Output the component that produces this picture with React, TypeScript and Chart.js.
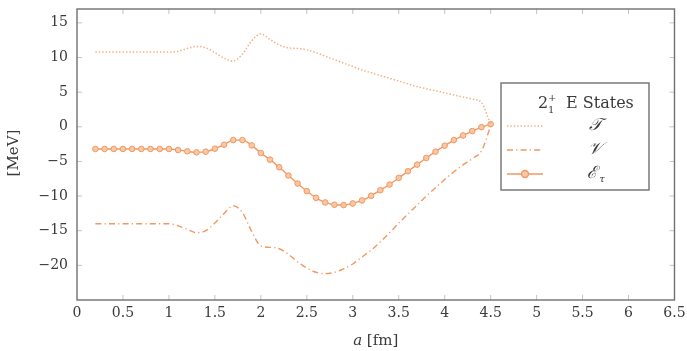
import React, { useEffect, useRef } from "react";
import { Chart, registerables } from "chart.js";

Chart.register(...registerables);

// separation a [fm]
const aValues = [
  0.2, 0.3, 0.4, 0.5, 0.6, 0.7, 0.8, 0.9, 1.0, 1.1, 1.2, 1.3, 1.4, 1.5, 1.6, 1.7, 1.8, 1.9, 2.0, 2.1,
  2.2, 2.3, 2.4, 2.5, 2.6, 2.7, 2.8, 2.9, 3.0, 3.1, 3.2, 3.3, 3.4, 3.5, 3.6, 3.7, 3.8, 3.9, 4.0, 4.1,
  4.2, 4.3, 4.4, 4.5,
];

// kinetic term T [MeV]
const kinetic = [
  10.8, 10.8, 10.8, 10.8, 10.8, 10.8, 10.8, 10.8, 10.8, 10.9, 11.3, 11.6, 11.4, 10.7, 9.9, 9.5, 10.5, 12.4, 13.4, 12.6,
  11.8, 11.4, 11.3, 11.1, 10.7, 10.2, 9.7, 9.2, 8.7, 8.2, 7.8, 7.4, 7.0, 6.6, 6.2, 5.8, 5.5, 5.2, 4.9, 4.6,
  4.3, 4.0, 3.5, 0.3,
];

// potential term V [MeV]
const potential = [
  -14.0, -14.0, -14.0, -14.0, -14.0, -14.0, -14.0, -14.0, -14.0, -14.3, -14.8, -15.3, -15.0, -13.9, -12.5, -11.4, -12.4, -15.1, -17.2, -17.4,
  -17.6, -18.4, -19.5, -20.4, -21.0, -21.2, -21.0, -20.5, -19.8, -18.8, -17.8, -16.6, -15.3, -13.9, -12.6, -11.3, -10.0, -8.8, -7.6, -6.5,
  -5.5, -4.6, -3.5, 0.1,
];

// total energy E_tau [MeV]
const energy = [
  -3.2, -3.2, -3.2, -3.2, -3.2, -3.2, -3.2, -3.2, -3.2, -3.35, -3.54, -3.69, -3.59, -3.16, -2.59, -1.92, -1.92, -2.68, -3.78, -4.74,
  -5.84, -7.04, -8.19, -9.29, -10.25, -10.92, -11.25, -11.3, -11.06, -10.63, -9.96, -9.15, -8.33, -7.37, -6.42, -5.46, -4.5, -3.59, -2.73, -1.92,
  -1.25, -0.62, -0.05, 0.38,
];

const xTicks = [0, 0.5, 1, 1.5, 2, 2.5, 3, 3.5, 4, 4.5, 5, 5.5, 6, 6.5];
const yTicks = [-25, -20, -15, -10, -5, 0, 5, 10, 15];
const yTickLabels = ["", "−20", "−15", "−10", "−5", "0", "5", "10", "15"];
const X_MIN = 0;
const X_MAX = 6.5;
const Y_MIN = -25;
const Y_MAX = 17;

const ORANGE = "rgb(242,152,96)";
const ORANGE_LIGHT = "rgba(242,152,96,0.8)";
const MARKER_FILL = "rgb(248,200,165)";
const SERIF = "'DejaVu Serif', 'Liberation Serif', serif";
const TEXT = "#3a3a3a";

const dotDash = [1.4, 2.0];
const dashDot = [6, 3.2, 1.2, 3.2];

const framePlugin = {
  id: "frame",
  afterDraw(chart: any) {
    const { ctx } = chart;
    const xs = chart.scales.x;
    const ys = chart.scales.y;
    const left = xs.getPixelForValue(X_MIN);
    const right = xs.getPixelForValue(X_MAX);
    const top = ys.getPixelForValue(Y_MAX);
    const bottom = ys.getPixelForValue(Y_MIN);
    ctx.save();

    // tick marks pointing inward on all four sides
    ctx.strokeStyle = "#c4c4c4";
    ctx.lineWidth = 1;
    const tl = 5;
    xTicks.forEach((v) => {
      const px = xs.getPixelForValue(v);
      if (Math.abs(px - left) < 1 || Math.abs(px - right) < 1) return;
      ctx.beginPath();
      ctx.moveTo(px, bottom);
      ctx.lineTo(px, bottom - tl);
      ctx.moveTo(px, top);
      ctx.lineTo(px, top + tl);
      ctx.stroke();
    });
    yTicks.forEach((v) => {
      const py = ys.getPixelForValue(v);
      if (Math.abs(py - bottom) < 1 || Math.abs(py - top) < 1) return;
      ctx.beginPath();
      ctx.moveTo(left, py);
      ctx.lineTo(left + tl, py);
      ctx.moveTo(right, py);
      ctx.lineTo(right - tl, py);
      ctx.stroke();
    });

    // plot frame
    ctx.strokeStyle = "#707070";
    ctx.lineWidth = 1.4;
    ctx.strokeRect(left, top, right - left, bottom - top);

    // axis titles
    ctx.fillStyle = TEXT;
    ctx.textBaseline = "middle";
    ctx.font = `italic 15px ${SERIF}`;
    const aW = ctx.measureText("a").width;
    ctx.font = `15px ${SERIF}`;
    const restW = ctx.measureText(" [fm]").width;
    const cx = (left + right) / 2;
    const ty = 341;
    const x0 = cx - (aW + restW) / 2;
    ctx.textAlign = "left";
    ctx.font = `italic 15px ${SERIF}`;
    ctx.fillText("a", x0, ty);
    ctx.font = `15px ${SERIF}`;
    ctx.fillText(" [fm]", x0 + aW, ty);

    ctx.save();
    ctx.translate(14, 153);
    ctx.rotate(-Math.PI / 2);
    ctx.textAlign = "center";
    ctx.font = `15px ${SERIF}`;
    ctx.fillText("[MeV]", 0, 0);
    ctx.restore();

    // legend
    const lx = 501, ly = 83, lw = 148, lh = 107;
    ctx.fillStyle = "#fff";
    ctx.fillRect(lx, ly, lw, lh);
    ctx.strokeStyle = "#707070";
    ctx.lineWidth = 1.4;
    ctx.strokeRect(lx, ly, lw, lh);

    ctx.fillStyle = TEXT;
    ctx.textAlign = "left";
    ctx.textBaseline = "alphabetic";
    ctx.font = `16px ${SERIF}`;
    ctx.fillText("2", 538, 108);
    ctx.font = `10px ${SERIF}`;
    ctx.fillText("+", 548, 101);
    ctx.fillText("1", 548, 113);
    ctx.font = `16px ${SERIF}`;
    ctx.fillText("E States", 566, 108);

    const sx0 = 507, sx1 = 543;
    const rows = [126, 150, 174];
    // T sample
    ctx.strokeStyle = ORANGE_LIGHT;
    ctx.lineWidth = 1.3;
    ctx.setLineDash(dotDash);
    ctx.beginPath();
    ctx.moveTo(sx0, rows[0]);
    ctx.lineTo(sx1, rows[0]);
    ctx.stroke();
    // V sample
    ctx.strokeStyle = ORANGE;
    ctx.setLineDash(dashDot);
    ctx.beginPath();
    ctx.moveTo(sx0, rows[1]);
    ctx.lineTo(sx1, rows[1]);
    ctx.stroke();
    // E sample
    ctx.setLineDash([]);
    ctx.lineWidth = 1.4;
    ctx.beginPath();
    ctx.moveTo(sx0, rows[2]);
    ctx.lineTo(sx1, rows[2]);
    ctx.stroke();
    ctx.beginPath();
    ctx.arc((sx0 + sx1) / 2, rows[2], 3.5, 0, Math.PI * 2);
    ctx.fillStyle = MARKER_FILL;
    ctx.fill();
    ctx.stroke();

    ctx.fillStyle = TEXT;
    ctx.textAlign = "center";
    ctx.textBaseline = "middle";
    ctx.font = `italic 17px ${SERIF}`;
    ctx.fillText("𝒯", 595, rows[0]);
    ctx.fillText("𝒱", 595, rows[1]);
    ctx.fillText("ℰ", 592, rows[2]);
    ctx.font = `italic 10px ${SERIF}`;
    ctx.fillText("τ", 602, rows[2] + 5);

    ctx.restore();
  },
};

export default function App() {
  const ref = useRef<HTMLCanvasElement | null>(null);

  useEffect(() => {
    if (!ref.current) return;
    const chart = new Chart(ref.current, {
      type: "line",
      data: {
        datasets: [
          {
            label: "T",
            data: aValues.map((a, i) => ({ x: a, y: kinetic[i] })),
            borderColor: ORANGE_LIGHT,
            borderWidth: 1.5,
            borderDash: dotDash,
            pointRadius: 0,
            cubicInterpolationMode: "monotone",
          },
          {
            label: "V",
            data: aValues.map((a, i) => ({ x: a, y: potential[i] })),
            borderColor: ORANGE,
            borderWidth: 1.4,
            borderDash: dashDot,
            pointRadius: 0,
            cubicInterpolationMode: "monotone",
          },
          {
            label: "E",
            data: aValues.map((a, i) => ({ x: a, y: energy[i] })),
            borderColor: ORANGE,
            borderWidth: 1.4,
            pointRadius: 2.8,
            pointBorderWidth: 1,
            pointBackgroundColor: MARKER_FILL,
            pointBorderColor: ORANGE,
            cubicInterpolationMode: "monotone",
          },
        ],
      },
      options: {
        animation: false,
        responsive: false,
        devicePixelRatio: 1,
        layout: { padding: { top: 9, right: 12.5, left: 0, bottom: 0 } },
        plugins: { legend: { display: false }, tooltip: { enabled: false } },
        scales: {
          x: {
            type: "linear",
            min: X_MIN,
            max: X_MAX,
            grid: { display: false, drawTicks: false },
            border: { display: false },
            afterBuildTicks: (s: any) => {
              s.ticks = xTicks.map((v) => ({ value: v }));
            },
            afterFit: (s: any) => {
              s.height = 51;
              s.paddingLeft = 0;
              s.paddingRight = 0;
            },
            ticks: {
              padding: 5,
              color: TEXT,
              font: { family: SERIF, size: 14 },
              callback: (v: any) => String(v),
            },
          },
          y: {
            type: "linear",
            min: Y_MIN,
            max: Y_MAX,
            grid: { display: false, drawTicks: false },
            border: { display: false },
            afterBuildTicks: (s: any) => {
              s.ticks = yTicks.map((v) => ({ value: v }));
            },
            afterFit: (s: any) => {
              s.width = 77;
              s.paddingTop = 0;
              s.paddingBottom = 0;
            },
            ticks: {
              padding: 9,
              color: TEXT,
              font: { family: SERIF, size: 14 },
              callback: (v: any) => yTickLabels[yTicks.indexOf(Number(v))] ?? "",
            },
          },
        },
      },
      plugins: [framePlugin],
    } as any);
    return () => chart.destroy();
  }, []);

  return (
    <div style={{ position: "fixed", left: 0, top: 0, width: 687, height: 351, background: "#fff" }}>
      <canvas ref={ref} width={687} height={351} style={{ width: 687, height: 351 }} />
    </div>
  );
}
